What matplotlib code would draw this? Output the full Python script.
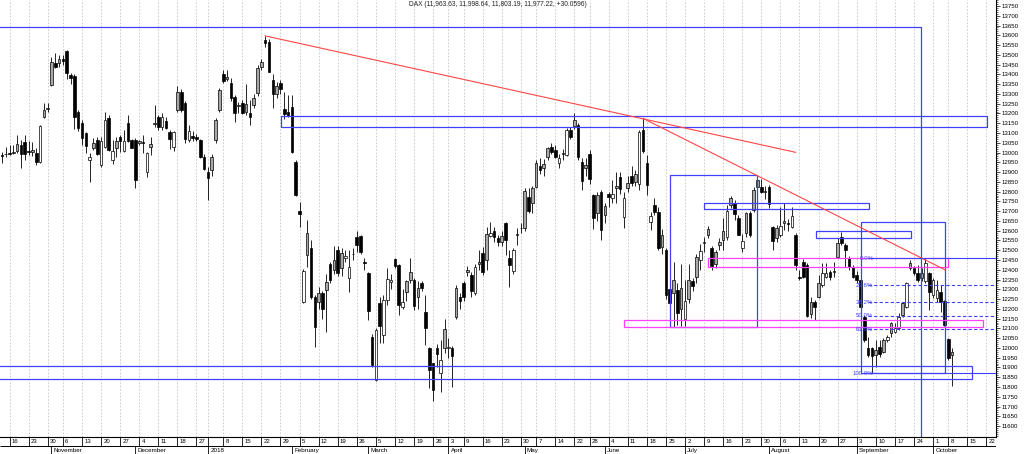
import numpy as np
import pandas as pd
import matplotlib
matplotlib.use("Agg")
import matplotlib.pyplot as plt
from matplotlib.patches import Rectangle

plt.rcParams['font.family'] = ['Liberation Sans', 'DejaVu Sans']

# ---------------- data (DAX daily, 12 Oct 2017 - 9 Oct 2018) ----------------
holidays = ["2017-10-31", "2017-12-25", "2017-12-26", "2018-01-01", "2018-03-30",
            "2018-04-02", "2018-05-01", "2018-05-21", "2018-10-03"]

opens = [
    12985, 12990, 13000, 13000, 13010, 13038, 13056, 13010, 13005, 12996,
    12953, 13183, 13225, 13345, 13460, 13460, 13480, 13520, 13397, 13390,
    13209, 13150, 13098, 12962, 13021, 13064, 12936, 13030, 13175, 12960,
    13021, 13080, 13010, 13150, 13064, 13064, 13050, 13056, 12900, 13030,
    13145, 13180, 13132, 13160, 13107, 13030, 13218, 13310, 13252, 13064,
    13085, 13080, 13064, 12979, 12898, 12911, 13064, 13218, 13402, 13375,
    13354, 13286, 13240, 13252, 13210, 13200, 13243, 13303, 13440, 13576,
    13567, 13371, 13300, 13354, 13221, 13210, 13235, 12953, 12700, 12237,
    12476, 12510, 12262, 12237, 12279, 12296, 12430, 12399, 12501, 12407,
    12458, 12356, 12480, 12569, 12573, 12440, 12385, 12058, 11836, 12228,
    12066, 12245, 12339, 12453, 12424, 12211, 12288, 12347, 12347, 12262,
    12334, 12186, 11998, 11921, 11998, 11870, 11998, 12000, 11998, 12160,
    12260, 12330, 12390, 12373, 12280, 12430, 12484, 12450, 12575, 12600,
    12561, 12544, 12638, 12459, 12396, 12578, 12615, 12615, 12774, 12740,
    12825, 12930, 12919, 12979, 13030, 13013, 12945, 12990, 12987, 13115,
    13135, 13141, 12953, 12920, 12990, 12783, 12690, 12800, 12680, 12790,
    12765, 12817, 12876, 12672, 12817, 12880, 12851, 12840, 13115, 12945,
    12646, 12731, 12697, 12518, 12501, 12300, 12280, 12296, 12200, 12150,
    12250, 12340, 12365, 12450, 12535, 12578, 12510, 12430, 12527, 12552,
    12569, 12732, 12740, 12663, 12510, 12587, 12690, 12706, 12825, 12825,
    12800, 12825, 12621, 12560, 12578, 12640, 12640, 12621, 12578, 12365,
    12441, 12424, 12175, 12237, 12262, 12322, 12365, 12390, 12390, 12467,
    12569, 12527, 12459, 12416, 12375, 12350, 12160, 11998, 11998, 11964,
    12007, 11981, 12041, 12075, 12083, 12100, 12169, 12211, 12407, 12407,
    12382, 12360, 12340, 12382, 12271, 12254, 12288, 12240, 12044, 11963.63,
]
highs = [
    13004, 13030, 13038, 13040, 13090, 13064, 13090, 13060, 13056, 13021,
    13141, 13252, 13252, 13490, 13508, 13499, 13500, 13525, 13405, 13400,
    13218, 13167, 13107, 12996, 13073, 13081, 13081, 13209, 13192, 13064,
    13081, 13090, 13115, 13192, 13070, 13073, 13064, 13090, 13004, 13081,
    13243, 13190, 13200, 13180, 13115, 13110, 13340, 13325, 13265, 13140,
    13110, 13095, 13070, 12990, 12927, 12990, 13175, 13330, 13422, 13422,
    13380, 13295, 13260, 13270, 13350, 13268, 13300, 13450, 13480, 13597,
    13580, 13400, 13360, 13370, 13310, 13295, 13295, 12960, 12748, 12405,
    12655, 12552, 12270, 12310, 12290, 12380, 12441, 12520, 12520, 12510,
    12500, 12501, 12510, 12600, 12580, 12460, 12390, 12070, 12100, 12262,
    12271, 12407, 12380, 12460, 12430, 12300, 12350, 12460, 12356, 12340,
    12343, 12270, 12007, 11925, 12020, 12040, 12150, 12050, 12010, 12320,
    12280, 12340, 12420, 12390, 12430, 12500, 12518, 12621, 12646, 12620,
    12580, 12600, 12646, 12500, 12510, 12612, 12640, 12820, 12817, 12830,
    12960, 12970, 12965, 13030, 13050, 13040, 12990, 13020, 13125, 13130,
    13204, 13150, 12970, 12970, 13015, 12790, 12800, 12810, 12740, 12800,
    12860, 12900, 12900, 12800, 12880, 12930, 12910, 13115, 13175, 12987,
    12697, 12765, 12720, 12610, 12510, 12340, 12441, 12330, 12430, 12348,
    12430, 12360, 12480, 12530, 12570, 12625, 12520, 12500, 12560, 12663,
    12730, 12780, 12757, 12680, 12585, 12698, 12700, 12825, 12887, 12862,
    12830, 12834, 12625, 12630, 12723, 12740, 12660, 12723, 12586, 12399,
    12453, 12433, 12262, 12245, 12373, 12433, 12437, 12400, 12441, 12561,
    12595, 12535, 12470, 12425, 12395, 12360, 12169, 12058, 12007, 12041,
    12041, 12050, 12066, 12135, 12126, 12177, 12237, 12339, 12450, 12420,
    12425, 12410, 12460, 12390, 12356, 12348, 12322, 12245, 12049, 11998.64,
]
lows = [
    12945, 12975, 12985, 12990, 12996, 12919, 12962, 12985, 12980, 12936,
    12945, 13175, 13210, 13340, 13431, 13440, 13450, 13375, 13350, 13120,
    13110, 13040, 13000, 12851, 13013, 12987, 12928, 13021, 13010, 12940,
    12979, 13004, 13004, 13056, 13021, 12817, 13038, 12996, 12877, 12987,
    13132, 13115, 13115, 13120, 13020, 13010, 13210, 13205, 13050, 13055,
    13060, 13060, 12970, 12910, 12757, 12880, 13050, 13210, 13354, 13365,
    13265, 13158, 13200, 13195, 13190, 13141, 13230, 13290, 13420, 13540,
    13410, 13226, 13280, 13300, 13170, 13180, 13000, 12780, 12620, 12230,
    12416, 12250, 12003, 12200, 12150, 12083, 12330, 12380, 12370, 12370,
    12440, 12288, 12450, 12493, 12480, 12400, 12143, 11900, 11830, 12023,
    12023, 12220, 12300, 12410, 12170, 12200, 12240, 12330, 12195, 12200,
    12290, 12015, 11793, 11726, 11900, 11775, 11972, 11950, 11800, 12150,
    12200, 12240, 12370, 12260, 12270, 12400, 12373, 12400, 12569, 12540,
    12520, 12520, 12475, 12313, 12380, 12527, 12590, 12600, 12689, 12690,
    12820, 12890, 12880, 12960, 12990, 12970, 12920, 12960, 12980, 13070,
    13120, 12960, 12808, 12880, 12840, 12610, 12650, 12553, 12640, 12720,
    12740, 12740, 12790, 12612, 12800, 12830, 12830, 12808, 13000, 12783,
    12603, 12680, 12500, 12480, 12250, 12180, 12109, 12117, 12110, 12110,
    12230, 12290, 12330, 12400, 12490, 12560, 12400, 12410, 12500, 12501,
    12550, 12715, 12655, 12578, 12492, 12570, 12570, 12697, 12706, 12791,
    12760, 12714, 12501, 12540, 12570, 12603, 12600, 12612, 12399, 12348,
    12356, 12160, 12152, 12143, 12254, 12314, 12356, 12350, 12365, 12459,
    12527, 12416, 12400, 12356, 12330, 12190, 12032, 11955, 11870, 11904,
    11955, 11972, 12030, 12058, 12075, 12092, 12160, 12202, 12399, 12375,
    12339, 12340, 12331, 12194, 12254, 12237, 12186, 12110, 11938, 11803.19,
]
closes = [
    12982, 12992, 12995, 13003, 13043, 12990, 12991, 13003, 13013, 12953,
    13134, 13217, 13229, 13465, 13440, 13478, 13468, 13406, 13382, 13183,
    13127, 13074, 13033, 12976, 13047, 12994, 13058, 13167, 13015, 13008,
    13060, 13059, 13060, 13061, 13024, 12861, 13058, 13048, 12998, 13045,
    13153, 13132, 13183, 13125, 13068, 13103, 13312, 13216, 13069, 13110,
    13072, 13070, 12979, 12918, 12871, 12978, 13167, 13319, 13367, 13385,
    13281, 13202, 13245, 13201, 13247, 13183, 13281, 13434, 13463, 13559,
    13414, 13298, 13340, 13324, 13197, 13189, 13004, 12785, 12687, 12392,
    12590, 12260, 12107, 12282, 12197, 12339, 12350, 12450, 12385, 12488,
    12470, 12415, 12483, 12527, 12490, 12436, 12190, 11914, 12091, 12113,
    12245, 12355, 12346, 12418, 12221, 12237, 12345, 12390, 12217, 12307,
    12309, 12100, 11886, 11787, 11970, 11940, 12096, 12002, 11957, 12305,
    12241, 12261, 12397, 12293, 12415, 12442, 12391, 12585, 12590, 12567,
    12540, 12572, 12550, 12422, 12500, 12580, 12612, 12802, 12700, 12820,
    12948, 12912, 12943, 13022, 13001, 12977, 12970, 12996, 13114, 13077,
    13169, 12976, 12855, 12938, 12863, 12666, 12783, 12605, 12724, 12770,
    12787, 12830, 12811, 12767, 12842, 12842, 12890, 13107, 13010, 12834,
    12677, 12695, 12511, 12580, 12270, 12228, 12348, 12177, 12306, 12238,
    12349, 12317, 12464, 12496, 12543, 12609, 12417, 12492, 12540, 12600,
    12700, 12765, 12686, 12580, 12548, 12689, 12579, 12809, 12860, 12798,
    12805, 12737, 12546, 12615, 12625, 12648, 12633, 12676, 12424, 12358,
    12365, 12163, 12237, 12210, 12331, 12384, 12385, 12365, 12394, 12538,
    12535, 12501, 12416, 12365, 12346, 12210, 12041, 11964, 11959, 11989,
    11970, 12041, 12058, 12126, 12100, 12160, 12228, 12331, 12433, 12382,
    12348, 12385, 12435, 12288, 12348, 12296, 12237, 12117, 11947.16, 11977.22,
]

title = "DAX (11,963.63, 11,998.64, 11,803.19, 11,977.22, +30.0596)"

# drawn annotations (x in trading-day index, 0 = 16 Oct 2017)
frame_top, frame_x = 13644, 238.8
blue_boxes = [  # x0, x1, y0, y1
    (71.1, 256.1, 13129, 13189),
    (173.1, 196.0, 12106, 12883),
    (182.1, 225.1, 12711, 12740),
    (211.3, 236.2, 12561, 12598),
    (223.1, 245.2, 11870, 12646),
    (-10.0, 252.1, 11841, 11907),
]
magenta_boxes = [
    (183.1, 246.0, 12416, 12459),
    (161.1, 255.0, 12108, 12143),
]
red_lines = [
    ((67, 13597), (206.0, 13001)),
    ((166, 13175), (245.2, 12399)),
]
fib_pct = [0.0, 23.6, 38.2, 50.0, 61.8, 100.0]
fib_range = (225, 241)    # bars containing the swing high / low
fib_x0 = 225.0

# ---------------- calendar ----------------
all_days = pd.bdate_range("2017-10-12", "2018-10-26")
tdays = all_days[~all_days.isin(pd.to_datetime(holidays))]
xall = np.arange(len(tdays)) - 2
n = len(closes)
assert len(opens) == n and len(highs) == n and len(lows) == n
x = xall[:n]
o = np.array(opens, float); h = np.array(highs, float)
l = np.array(lows, float); c = np.array(closes, float)

XMIN, XMAX = -2.49, 258.5
YMIN, YMAX = 11544, 13780.7
W, H = 1024, 454

fig = plt.figure(figsize=(W / 100, H / 100), dpi=100)
ax = fig.add_axes([0, 17 / H, 996 / W, 437 / H])
axd = fig.add_axes([0, 0, 996 / W, 17 / H])
ax.set_xlim(XMIN, XMAX); ax.set_ylim(YMIN, YMAX)
axd.set_xlim(XMIN, XMAX); axd.set_ylim(0, 2)

# week and month ticks
df = pd.DataFrame({"d": tdays, "x": xall})
iso = tdays.isocalendar()
df["wk"] = (iso.year.values * 100 + iso.week.values)
weeks = df.groupby("wk").first().iloc[1:]
df["mo"] = tdays.year * 100 + tdays.month
months = df.groupby("mo").first().iloc[1:]

ax.vlines(weeks["x"], YMIN, YMAX, colors="#c4c4c4", linestyles=(0, (2, 2)),
          lw=0.6, zorder=0)

# candles
prev = np.r_[c[0], c[:-1]]
up = c >= o
fill = np.where(~up, "black", np.where(o > prev, "#a8a8a8", "white"))
ax.vlines(x, l, h, colors="black", lw=0.6, zorder=2)
ax.bar(x, np.maximum(np.abs(c - o), 2.5), width=0.68, bottom=np.minimum(o, c),
       color=fill, edgecolor="black", linewidth=0.5, zorder=3)

BLUE, RED, MAG = "#4040ff", "#ff4545", "#ff40ff"
ax.plot([XMIN - 1, frame_x, frame_x], [frame_top, frame_top, YMIN - 10],
        color=BLUE, lw=0.9, zorder=4)
for x0, x1, y0, y1 in blue_boxes:
    ax.add_patch(Rectangle((x0, y0), x1 - x0, y1 - y0, fill=False,
                           edgecolor=BLUE, lw=0.9, zorder=4))
for x0, x1, y0, y1 in magenta_boxes:
    ax.add_patch(Rectangle((x0, y0), x1 - x0, y1 - y0, fill=False,
                           edgecolor=MAG, lw=0.9, zorder=4))
for (xa, ya), (xb, yb) in red_lines:
    ax.plot([xa, xb], [ya, yb], color=RED, lw=0.8, zorder=4)

# fibonacci retracement
sel = (x >= fib_range[0]) & (x <= fib_range[1])
fhi, flo = h[sel].max(), l[sel].min()
for p in fib_pct:
    lev = fhi - (fhi - flo) * p / 100
    ls = "-" if p in (0.0, 100.0) else (0, (3, 2))
    ax.plot([fib_x0, XMAX + 1], [lev, lev], color=BLUE, lw=0.8, ls=ls, zorder=4)
    ax.text(fib_x0 + 1.4, lev, f"{p:.1f}%", color=BLUE, fontsize=4.4,
            ha="right", va="center", zorder=5)

ax.text(0.5, 1 - 5 / 437, title, transform=ax.transAxes, ha="center",
        va="center", fontsize=4.8, color="#222222")

# axes styling
ax.yaxis.tick_right()
ax.set_xticks([])
ax.set_yticks(np.arange(11600, 13751, 50))
ax.set_yticks(np.arange(11550, 13781, 10), minor=True)
ax.tick_params(axis="y", which="major", length=3, width=0.5, labelsize=4.4,
               pad=1, colors="black")
ax.tick_params(axis="y", which="minor", length=1.5, width=0.4)
for s in ("left", "top"):
    ax.spines[s].set_visible(False)
ax.spines["right"].set_linewidth(0.8)
ax.spines["bottom"].set_linewidth(0.8)

# date axis rows
axd.axis("off")
axd.hlines([2, 1], XMIN, XMAX, colors="black", lw=0.7)
axd.vlines(weeks["x"], 1, 2, colors="black", lw=0.6)
for wx, wd in zip(weeks["x"], weeks["d"]):
    lab = "" if (wd.month == 1 and wd.day <= 3) else str(wd.day)
    axd.text(wx + 0.6, 1.45, lab, fontsize=4.3, ha="left", va="center")
axd.vlines(months["x"], 0, 1, colors="black", lw=0.6)
for mx, md in zip(months["x"], months["d"]):
    lab = str(md.year) if md.month == 1 else md.strftime("%B")
    axd.text(mx + 0.6, 0.4, lab, fontsize=4.5, ha="left", va="center")
axd.vlines([XMAX - 0.05], 0, 2, colors="black", lw=0.7)

fig.savefig("out.png", dpi=100)
